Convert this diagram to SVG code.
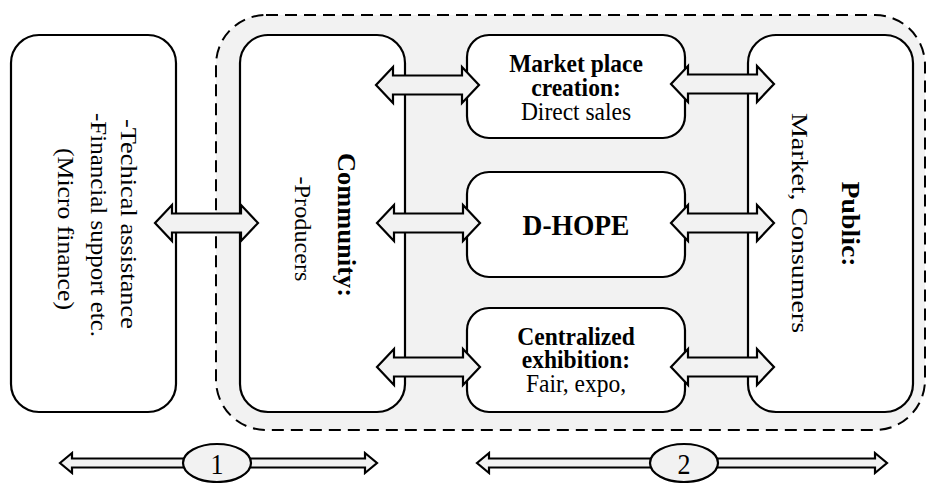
<svg xmlns="http://www.w3.org/2000/svg" width="927" height="483" viewBox="0 0 927 483">
<style>
.box{fill:#ffffff;stroke:#000;stroke-width:2.2}
.area{fill:#f2f2f2;stroke:#000;stroke-width:2;stroke-dasharray:12 7}
.arr{fill:#f2f2f2;stroke:#000;stroke-width:2.2;stroke-linejoin:miter}
.t{font-family:"Liberation Serif","Times New Roman",serif;fill:#000}
.b{font-weight:bold}
</style>
<rect width="927" height="483" fill="#ffffff"/>
<g id="area-2">
<rect class="area" x="216" y="15" width="709" height="415" rx="50" ry="50"/>
</g>
<g id="node-support">
<rect class="box" x="11" y="35" width="165" height="377" rx="28" ry="28"/>
<text class="t" font-size="24" text-anchor="middle" textLength="210" lengthAdjust="spacingAndGlyphs" transform="translate(121,224) rotate(90)">-Techical assistance</text>
<text class="t" font-size="24" text-anchor="middle" textLength="224" lengthAdjust="spacingAndGlyphs" transform="translate(91,225) rotate(90)">-Financial support etc.</text>
<text class="t" font-size="24" text-anchor="middle" textLength="162" lengthAdjust="spacingAndGlyphs" transform="translate(58,229) rotate(90)">(Micro finance)</text>
</g>
<g id="node-community">
<rect class="box" x="240" y="35" width="165" height="377" rx="28" ry="28"/>
<text class="t b" font-size="25" text-anchor="middle" textLength="144" lengthAdjust="spacingAndGlyphs" transform="translate(338,225) rotate(90)">Community:</text>
<text class="t" font-size="24" text-anchor="middle" textLength="105" lengthAdjust="spacingAndGlyphs" transform="translate(295,229) rotate(90)">-Producers</text>
</g>
<g id="node-market">
<rect class="box" x="467" y="35" width="218" height="103" rx="22" ry="22"/>
<text class="t b" font-size="23.5" text-anchor="middle" transform="translate(576,72) scale(1,1.06)">Market place</text>
<text class="t b" font-size="23.5" text-anchor="middle" transform="translate(576,96) scale(1,1.06)">creation:</text>
<text class="t" font-size="23.5" text-anchor="middle" transform="translate(576,120) scale(1,1.06)">Direct sales</text>
</g>
<g id="node-dhope">
<rect class="box" x="467" y="172" width="218" height="105" rx="22" ry="22"/>
<text class="t b" font-size="27.5" text-anchor="middle" transform="translate(576,235) scale(1,1.1)">D-HOPE</text>
</g>
<g id="node-exhibition">
<rect class="box" x="467" y="308" width="218" height="104" rx="22" ry="22"/>
<text class="t b" font-size="23.5" text-anchor="middle" transform="translate(576,345) scale(1,1.06)">Centralized</text>
<text class="t b" font-size="23.5" text-anchor="middle" transform="translate(576,368) scale(1,1.06)">exhibition:</text>
<text class="t" font-size="23.5" text-anchor="middle" transform="translate(576,392) scale(1,1.06)">Fair, expo,</text>
</g>
<g id="node-public">
<rect class="box" x="748" y="35" width="165" height="377" rx="28" ry="28"/>
<text class="t b" font-size="25" text-anchor="middle" textLength="85" lengthAdjust="spacingAndGlyphs" transform="translate(842,224) rotate(90)">Public:</text>
<text class="t" font-size="24" text-anchor="middle" textLength="220" lengthAdjust="spacingAndGlyphs" transform="translate(792,223) rotate(90)">Market, Consumers</text>
</g>
<g id="connectors">
<path class="arr" d="M155,223 L172,205 L172,213.5 L241,213.5 L241,205 L258,223 L241,241 L241,232.5 L172,232.5 L172,241 Z"/>
<path class="arr" d="M376,85 L393,67 L393,75.5 L462,75.5 L462,67 L479,85 L462,103 L462,94.5 L393,94.5 L393,103 Z"/>
<path class="arr" d="M377,223 L394,205 L394,213.5 L463,213.5 L463,205 L480,223 L463,241 L463,232.5 L394,232.5 L394,241 Z"/>
<path class="arr" d="M377,367 L394,349 L394,357.5 L463,357.5 L463,349 L480,367 L463,385 L463,376.5 L394,376.5 L394,385 Z"/>
<path class="arr" d="M671,84 L688,66 L688,74.5 L757,74.5 L757,66 L774,84 L757,102 L757,93.5 L688,93.5 L688,102 Z"/>
<path class="arr" d="M671,223 L688,205 L688,213.5 L757,213.5 L757,205 L774,223 L757,241 L757,232.5 L688,232.5 L688,241 Z"/>
<path class="arr" d="M671,367 L688,349 L688,357.5 L757,357.5 L757,349 L774,367 L757,385 L757,376.5 L688,376.5 L688,385 Z"/>
<path class="arr" d="M60,463 L72,453 L72,458.5 L365,458.5 L365,453 L377,463 L365,473 L365,467.5 L72,467.5 L72,473 Z"/>
<path class="arr" d="M477,463 L489,453 L489,458.5 L875,458.5 L875,453 L887,463 L875,473 L875,467.5 L489,467.5 L489,473 Z"/>
</g>
<g id="label-1">
<ellipse class="arr" cx="217" cy="463" rx="34" ry="19"/>
<text class="t" font-size="26" text-anchor="middle" transform="translate(217,474) scale(1,1.1)">1</text>
</g>
<g id="label-2">
<ellipse class="arr" cx="684" cy="463" rx="34" ry="19"/>
<text class="t" font-size="26" text-anchor="middle" transform="translate(684,474) scale(1,1.1)">2</text>
</g>
</svg>
